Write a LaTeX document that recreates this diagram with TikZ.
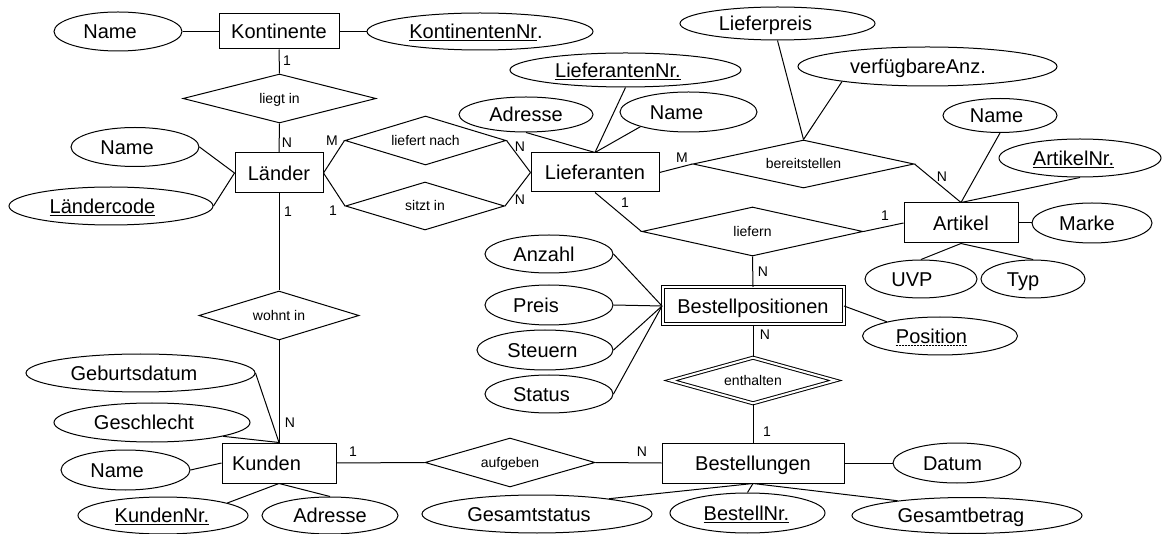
\documentclass[tikz,border=0pt]{standalone}
\usepackage{fontspec}
\setmainfont{Liberation Sans}
\usetikzlibrary{shapes.geometric}
\newcommand\bigf{\fontsize{20}{24}\selectfont}
\newcommand\smallf{\fontsize{14}{17}\selectfont}
\newcommand\lsh[1]{\hspace*{#1pt}}
\tikzset{
 ent/.style={draw, rectangle, line width=1pt, inner sep=0pt, font=\bigf, text height=14.4pt, text depth=0pt},
 attr/.style={draw, ellipse, line width=1pt, inner sep=0pt, font=\bigf, text height=14.4pt, text depth=0pt},
 rel/.style={draw, diamond, aspect=4, line width=1pt, inner sep=0pt, font=\smallf, text height=10pt, text depth=0pt},
 card/.style={inner sep=0pt, font=\smallf},
 conn/.style={line width=1pt},
}
\begin{document}
\begin{tikzpicture}[x=1pt,y=-1pt]
\useasboundingbox[fill=white] (0,0) rectangle (1162,534);
% entities
\node[ent, minimum width=120, minimum height=35] (kont) at (279,31.5) {Kontinente};
\node[ent, minimum width=88, minimum height=40] (laender) at (279,173) {Länder};
\node[ent, minimum width=128, minimum height=39] (lief) at (595,172.5) {Lieferanten};
\node[ent, minimum width=114, minimum height=40] (artikel) at (961,223) {Artikel};
\node[ent, double, double distance=2pt, minimum width=181, minimum height=37] (bpos) at (753,306) {Bestellpositionen};
\node[ent, minimum width=182, minimum height=40] (best) at (753,463) {Bestellungen};
\node[ent, minimum height=40, text width=94, inner xsep=10pt, align=left] (kunden) at (279,463) {Kunden};
% relationships
\node[rel, minimum width=193, minimum height=49] (liegt) at (279.5,98.5) {liegt in};
\node[rel, minimum width=161, minimum height=49] (liefnach) at (425.5,140.5) {liefert nach};
\node[rel, minimum width=159, minimum height=48] (sitzt) at (425,206) {sitzt in};
\node[rel, minimum width=221, minimum height=48] (bereit) at (803.5,164) {bereitstellen};
\node[rel, minimum width=221, minimum height=49] (liefern) at (752.5,231.5) {liefern};
\node[rel, double, double distance=2pt, minimum width=165, minimum height=46] (enth) at (753,380.5) {enthalten};
\node[rel, minimum width=170, minimum height=49] (aufg) at (510,462.5) {aufgeben};
\node[rel, minimum width=160, minimum height=49] (wohnt) at (279,315.5) {wohnt in};
% attributes
\node[attr, minimum width=128, minimum height=39] (kname) at (118,31.5) {Name\lsh{16}};
\node[attr, minimum width=226, minimum height=37] (knr) at (480,31.5) {\underline{KontinentenNr}.\lsh{8}};
\node[attr, minimum width=128, minimum height=39] (lname) at (135,147) {Name\lsh{16}};
\node[attr, minimum width=204, minimum height=38] (lcode) at (111,206) {\underline{Ländercode}\lsh{17}};
\node[attr, minimum width=231, minimum height=34] (lnr) at (625.5,70) {\underline{LieferantenNr.}\lsh{15}};
\node[attr, minimum width=134, minimum height=35] (ladr) at (526,114.5) {Adresse};
\node[attr, minimum width=137, minimum height=40] (lfname) at (688.5,112) {Name\lsh{24}};
\node[attr, minimum width=195, minimum height=33] (lpreis) at (777.5,23.5) {Lieferpreis\lsh{24}};
\node[attr, minimum width=259, minimum height=39] (vanz) at (927.5,66.5) {verfügbareAnz.\lsh{19}};
\node[attr, minimum width=114, minimum height=34] (aname) at (1000,115.5) {Name\lsh{7}};
\node[attr, minimum width=162, minimum height=38] (anr) at (1080,158) {\underline{ArtikelNr.}\lsh{13}};
\node[attr, minimum width=120, minimum height=40] (marke) at (1092,223) {Marke\lsh{10}};
\node[attr, minimum width=112, minimum height=38] (uvp) at (921,279) {UVP\lsh{18}};
\node[attr, minimum width=104, minimum height=38] (typ) at (1033,279) {Typ\lsh{20}};
\node[attr, minimum width=128, minimum height=38] (anz) at (549,254) {Anzahl\lsh{10}};
\node[attr, minimum width=128, minimum height=40] (preis) at (549,305) {Preis\lsh{26}};
\node[attr, minimum width=136, minimum height=40] (steuern) at (545,350) {Steuern\lsh{5}};
\node[attr, minimum width=128, minimum height=38] (status) at (549,394) {Status\lsh{15}};
\node[attr, minimum width=155, minimum height=38] (pos) at (940,336) {};
\node[inner sep=0pt, font=\bigf, text height=14.4pt, text depth=0pt] (postext) at (931.5,336) {Position};
\draw[line width=0.8pt, dash pattern=on 2pt off 1pt] ([yshift=-2.5pt]postext.base west) -- ([yshift=-2.5pt]postext.base east);
\node[attr, minimum width=128, minimum height=40] (datum) at (957,463) {Datum\lsh{9}};
\node[attr, minimum width=230, minimum height=38] (gstatus) at (537,514) {Gesamtstatus\lsh{16}};
\node[attr, minimum width=155, minimum height=40] (bnr) at (747.5,513) {\underline{BestellNr.}\lsh{2}};
\node[attr, minimum width=230, minimum height=36] (gbetrag) at (967,515.5) {Gesamtbetrag\lsh{12}};
\node[attr, minimum width=229, minimum height=38] (geb) at (140.5,373) {Geburtsdatum\lsh{13}};
\node[attr, minimum width=196, minimum height=39] (gesch) at (152,422.5) {Geschlecht\lsh{16}};
\node[attr, minimum width=129, minimum height=40] (kname2) at (125.5,470) {Name\lsh{17}};
\node[attr, minimum width=170, minimum height=37] (knnr) at (163,515.5) {\underline{KundenNr.}\lsh{2}};
\node[attr, minimum width=136, minimum height=37] (kadr) at (330,515.5) {Adresse};
% connectors
\draw[conn] (kname.east) -- (kont.west);
\draw[conn] (kont.east) -- (knr.west);
\draw[conn] (kont.south) -- (liegt.north);
\draw[conn] (liegt.south) -- (laender.north);
\draw[conn] (lname.east) -- (laender.west);
\draw[conn] (lcode.east) -- (laender.west);
\draw[conn] (laender.east) -- (liefnach.west);
\draw[conn] (laender.east) -- (sitzt.west);
\draw[conn] (liefnach.east) -- (lief.west);
\draw[conn] (sitzt.east) -- (lief.west);
\draw[conn] (laender.south) -- (wohnt.north);
\draw[conn] (wohnt.south) -- (kunden.north);
\draw[conn] (lnr.south) -- (lief.north);
\draw[conn] (ladr.south) -- (lief.north);
\draw[conn] (lfname.197) -- (lief.north);
\draw[conn] (lief.east) -- (bereit.west);
\draw[conn] (bereit.east) -- (artikel.north);
\draw[conn] (lpreis.south) -- (bereit.north);
\draw[conn] (vanz.190) -- (bereit.north);
\draw[conn] (aname.south) -- (artikel.north);
\draw[conn] (anr.south) -- (artikel.north);
\draw[conn] (artikel.east) -- (marke.west);
\draw[conn] (uvp.north) -- (artikel.south);
\draw[conn] (typ.north) -- (artikel.south);
\draw[conn] (lief.south) -- (liefern.west);
\draw[conn] (liefern.east) -- (artikel.west);
\draw[conn] (liefern.south) -- (bpos.north);
\draw[conn] (anz.east) -- (bpos.west);
\draw[conn] (preis.east) -- (bpos.west);
\draw[conn] (steuern.east) -- (bpos.west);
\draw[conn] (status.east) -- (bpos.west);
\draw[conn] (bpos.east) -- (pos.165);
\draw[conn] (bpos.south) -- (enth.north);
\draw[conn] (enth.south) -- (best.north);
\draw[conn] (best.east) -- (datum.west);
\draw[conn] (gstatus.12) -- (best.south);
\draw[conn] (bnr.north) -- (best.south);
\draw[conn] (gbetrag.168) -- (best.south);
\draw[conn] (kunden.east) -- (aufg.west);
\draw[conn] (aufg.east) -- (best.west);
\draw[conn] (geb.east) -- (kunden.north);
\draw[conn] (gesch.-11) -- (kunden.north);
\draw[conn] (kname2.east) -- (kunden.west);
\draw[conn] (knnr.11) -- (kunden.south);
\draw[conn] (kadr.north) -- (kunden.south);
% cardinalities
\node[card] (c1) at (287,61) {1};
\node[card] (c2) at (287,143) {N};
\node[card] (c3) at (332,141) {M};
\node[card] (c4) at (333,211) {1};
\node[card] (c5) at (520,147) {N};
\node[card] (c6) at (520,200) {N};
\node[card] (c7) at (288,212) {1};
\node[card] (c8) at (290,423) {N};
\node[card] (c9) at (353,452) {1};
\node[card] (c10) at (642,452) {N};
\node[card] (c11) at (682,158) {M};
\node[card] (c12) at (942,177) {N};
\node[card] (c13) at (625,203) {1};
\node[card] (c14) at (885,216) {1};
\node[card] (c15) at (763,272) {N};
\node[card] (c16) at (765,335) {N};
\node[card] (c17) at (767,432) {1};
\end{tikzpicture}
\end{document}
